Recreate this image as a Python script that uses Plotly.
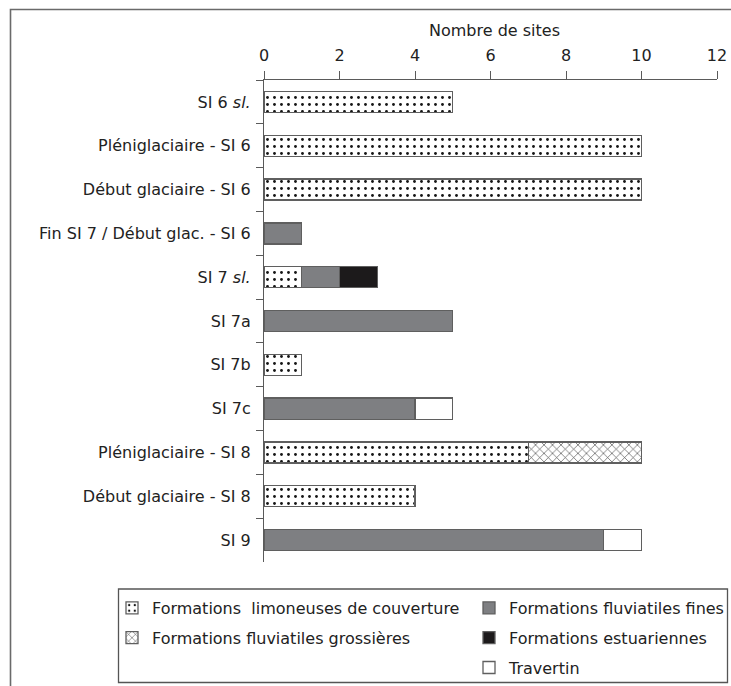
import plotly.graph_objects as go

categories = [
    "SI 6 <i>sl.</i>",
    "Pléniglaciaire - SI 6",
    "Début glaciaire - SI 6",
    "Fin SI 7 / Début glac. - SI 6",
    "SI 7 <i>sl.</i>",
    "SI 7a",
    "SI 7b",
    "SI 7c",
    "Pléniglaciaire - SI 8",
    "Début glaciaire - SI 8",
    "SI 9",
]
limoneuses = [5, 10, 10, 0, 1, 0, 1, 0, 7, 4, 0]
grossieres = [0, 0, 0, 0, 0, 0, 0, 0, 3, 0, 0]
fines = [0, 0, 0, 1, 1, 5, 0, 4, 0, 0, 9]
estuariennes = [0, 0, 0, 0, 1, 0, 0, 0, 0, 0, 0]
travertin = [0, 0, 0, 0, 0, 0, 0, 1, 0, 0, 1]

x_ticks = [0, 2, 4, 6, 8, 10, 12]

FONT = "DejaVu Sans"
TXT = "#222222"
LINE = "#5a5a5a"

W, H = 731, 686
L, R, T, B = 264, 14, 80, 124
PW, PH = W - L - R, H - T - B


def px(x):
    return (x - L) / PW


def py(y):
    return (H - B - y) / PH


outline = dict(color="#5f5f5f", width=1.3)

fig = go.Figure()
fig.add_trace(go.Bar(
    y=categories, x=limoneuses, orientation="h",
    name="Formations\u00a0 limoneuses de couverture",
    marker=dict(color="white", line=outline,
                pattern=dict(shape=".", fgcolor="#151515", bgcolor="white",
                             size=7, solidity=0.13, fillmode="replace")),
    legend="legend", legendgroup="a",
))
fig.add_trace(go.Bar(
    y=categories, x=grossieres, orientation="h",
    name="Formations fluviatiles grossières",
    marker=dict(color="white", line=outline,
                pattern=dict(shape="x", fgcolor="#444444", bgcolor="white",
                             size=6, solidity=0.2, fillmode="replace")),
    legend="legend", legendgroup="b",
))
fig.add_trace(go.Bar(
    y=categories, x=fines, orientation="h",
    name="Formations fluviatiles fines",
    marker=dict(color="#7e7f82", line=outline),
    legend="legend2", legendgroup="c",
))
fig.add_trace(go.Bar(
    y=categories, x=estuariennes, orientation="h",
    name="Formations estuariennes",
    marker=dict(color="#1c1a1b", line=outline),
    legend="legend2", legendgroup="d",
))
fig.add_trace(go.Bar(
    y=categories, x=travertin, orientation="h",
    name="Travertin",
    marker=dict(color="white", line=outline),
    legend="legend2", legendgroup="e",
))

legend_common = dict(
    font=dict(family=FONT, size=16, color=TXT),
    bgcolor="rgba(0,0,0,0)", borderwidth=0,
    orientation="v", xanchor="left", yanchor="top",
    tracegroupgap=6, traceorder="grouped",
)

fig.update_layout(
    width=W, height=H,
    margin=dict(l=L, r=R, t=T, b=B, autoexpand=False),
    paper_bgcolor="white", plot_bgcolor="white",
    barmode="stack", bargap=0.52,
    font=dict(family=FONT, size=16, color=TXT),
    showlegend=True,
    legend=dict(x=px(112), y=py(591), **legend_common),
    legend2=dict(x=px(469), y=py(591), **legend_common),
    xaxis=dict(
        side="top", range=[0, 12], tickvals=x_ticks,
        ticks="outside", ticklen=8, tickcolor=LINE, tickwidth=1.2,
        showline=True, linecolor=LINE, linewidth=1.2,
        showgrid=False, zeroline=False,
        tickfont=dict(family=FONT, size=16, color=TXT),
        ticklabelstandoff=4,
        fixedrange=True,
    ),
    yaxis=dict(
        type="category", categoryorder="array", categoryarray=categories,
        autorange="reversed",
        ticks="outside", ticklen=7, tickcolor=LINE, tickwidth=1.2,
        tickson="boundaries",
        showline=True, linecolor=LINE, linewidth=1.2,
        showgrid=False, zeroline=False,
        tickfont=dict(family=FONT, size=16, color=TXT),
        ticklabelstandoff=9,
        fixedrange=True,
    ),
    annotations=[dict(
        text="Nombre de sites", xref="paper", yref="paper",
        x=px(494.5), y=py(30.5), xanchor="center", yanchor="middle",
        showarrow=False, font=dict(family=FONT, size=16, color=TXT),
    )],
    shapes=[
        dict(type="rect", xref="paper", yref="paper",
             x0=px(10.5), x1=px(760), y0=py(740), y1=py(9.5),
             line=dict(color="#6a6a6a", width=1.6), fillcolor="rgba(0,0,0,0)",
             layer="below"),
        dict(type="rect", xref="paper", yref="paper",
             x0=px(118.5), x1=px(727.5), y0=py(682.5), y1=py(589),
             line=dict(color="#555555", width=1.3), fillcolor="rgba(0,0,0,0)",
             layer="below"),
    ],
)

fig.write_html(
    "out.html",
    config={"displayModeBar": False},
    post_script="document.body.style.margin='0';document.body.style.overflow='hidden';",
)
